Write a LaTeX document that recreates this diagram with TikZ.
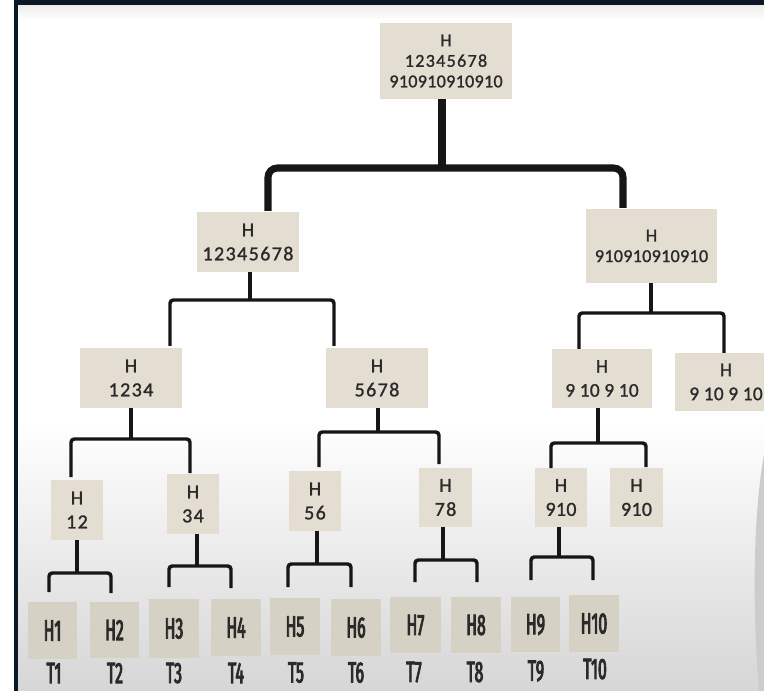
\documentclass[tikz,border=0pt]{standalone}
\usepackage{fontspec}
\setmainfont{Carlito}
\newfontfamily\numf[LetterSpace=7,FakeBold=1.2]{Carlito}
\newfontfamily\numg[LetterSpace=1.5,FakeBold=1.2]{Carlito}
\newfontfamily\leaff[FakeStretch=0.54,FakeBold=3,Numbers=Proportional]{Fira Sans}
\definecolor{boxc}{HTML}{E3DED1}
\definecolor{leafc}{HTML}{D6D1C5}
\definecolor{txtc}{HTML}{2A2A2A}
\definecolor{lnc}{HTML}{161616}
\definecolor{framec}{HTML}{0C1826}
\definecolor{bgbot}{HTML}{D6D6D6}
\tikzset{
  wh/.style 2 args={minimum width=#1*0.75pt, minimum height=#2*0.75pt},
  hb/.style={fill=boxc, inner sep=0pt, text=txtc, align=center,
             font={\numf\fontsize{15pt}{18pt}\selectfont}},
  hbs/.style={hb, font={\numf\fontsize{13.6pt}{15.4pt}\selectfont}},
  lf/.style={fill=leafc, inner sep=0pt, text=txtc,
             font={\leaff\fontsize{22pt}{24pt}\selectfont}},
  tl/.style={inner sep=0pt, text=txtc, font={\leaff\fontsize{22pt}{24pt}\selectfont}},
  conn/.style={draw=lnc, line width=2.6pt, rounded corners=2.5pt},
  bigconn/.style={draw=lnc, line width=5.3pt, rounded corners=7pt},
}
\begin{document}
\begin{tikzpicture}[x=0.75pt, y=-0.75pt]
\useasboundingbox (0,0) rectangle (764,691);
\clip (0,0) rectangle (764,691);
% background
\fill[white] (0,0) rectangle (764,691);
\shade[top color=white, bottom color=bgbot] (18,420) rectangle (764,691);
\shade[top color=black!7, bottom color=white] (18,5) rectangle (764,20);
\fill[gray!40] (764,455) .. controls (752,520) and (753,620) .. (759,691) -- (764,691) -- cycle;
\fill[framec] (14,0) rectangle (764,5);
\fill[framec] (14,0) rectangle (18,691);

% level 0
\node[hbs, wh={132}{76}] (root) at (446,61) {H\\12345678\\{\numg 910910910910}};
% level 1
\node[hb, wh={102}{60}] (L) at (248,242) {H\\12345678};
\node[hbs, wh={131}{74}] (R) at (651.5,246) {H\\{\numg 910910910910}};
% level 2
\node[hb, wh={102}{60}] (A) at (131,378) {H\\1234};
\node[hb, wh={102}{60}] (B) at (377,378) {H\\5678};
\node[hb, wh={100}{59}, font={\numg\fontsize{14.5pt}{18pt}\selectfont}] (C) at (602,378.5) {H\\9 10 9 10};
\node[hb, wh={102}{58}, font={\numg\fontsize{14.5pt}{18pt}\selectfont}] (D) at (726,382) {H\\9 10 9 10};
% level 3
\node[hb, wh={52}{60}] (E) at (77,510) {H\\12};
\node[hb, wh={52}{60}] (F) at (193,504) {H\\34};
\node[hb, wh={52}{60}] (G) at (315,501) {H\\56};
\node[hb, wh={53}{59}] (I) at (445.5,497.5) {H\\78};
\node[hb, wh={52}{59}, font={\numg\fontsize{15pt}{18pt}\selectfont}] (J) at (561,497.5) {H\\910};
\node[hb, wh={53}{59}, font={\numg\fontsize{15pt}{18pt}\selectfont}] (K) at (636.5,497.5) {H\\910};
% leaves
\node[lf, wh={49}{57}] (h1) at (52.5,630.5) {H1};
\node[lf, wh={49}{56}] (h2) at (114.5,630) {H2};
\node[lf, wh={50}{59}] (h3) at (174,628.5) {H3};
\node[lf, wh={50}{57}] (h4) at (236,627.5) {H4};
\node[lf, wh={50}{57}] (h5) at (295,626.5) {H5};
\node[lf, wh={50}{57}] (h6) at (356,627.5) {H6};
\node[lf, wh={51}{56}] (h7) at (415.5,625) {H7};
\node[lf, wh={50}{56}] (h8) at (476,625) {H8};
\node[lf, wh={49}{55}] (h9) at (535.5,624.5) {H9};
\node[lf, wh={50}{57}] (h10) at (594,623.5) {H10};
% T labels
\node[tl] (t1) at (54,673) {T1};
\node[tl] (t2) at (115,673) {T2};
\node[tl] (t3) at (174,673) {T3};
\node[tl] (t4) at (236,673) {T4};
\node[tl] (t5) at (296,672.5) {T5};
\node[tl] (t6) at (356,672.5) {T6};
\node[tl] (t7) at (414,672) {T7};
\node[tl] (t8) at (475,672) {T8};
\node[tl] (t9) at (536,671) {T9};
\node[tl] (t10) at (595,669) {T10};

% junctions and leg ends
\coordinate (j0) at (442,168);
\coordinate (j0a) at (268,211); \coordinate (j0b) at (623,208);
\coordinate (j1) at (250,300);
\coordinate (j1a) at (170,346); \coordinate (j1b) at (334,346);
\coordinate (j2) at (651,313);
\coordinate (j2a) at (579,349); \coordinate (j2b) at (724,353);
\coordinate (j3) at (131,439);
\coordinate (j3a) at (71,477); \coordinate (j3b) at (190,473);
\coordinate (j4) at (378,432);
\coordinate (j4a) at (319,467); \coordinate (j4b) at (439,464);
\coordinate (j5) at (598,443);
\coordinate (j5a) at (551,468); \coordinate (j5b) at (646,467);
\coordinate (j6) at (77,573);
\coordinate (j6a) at (49,592); \coordinate (j6b) at (111,593);
\coordinate (j7) at (197,566);
\coordinate (j7a) at (169,587); \coordinate (j7b) at (231,588);
\coordinate (j8) at (317,564);
\coordinate (j8a) at (288,587); \coordinate (j8b) at (351,587);
\coordinate (j9) at (443,560);
\coordinate (j9a) at (415,582); \coordinate (j9b) at (477,582);
\coordinate (j10) at (559,557);
\coordinate (j10a) at (531,580); \coordinate (j10b) at (593,580);

% connectors
\draw[bigconn] (j0 |- root.south) -- ([yshift=-2.6pt]j0);
\draw[bigconn] (j0a) |- (j0) -| (j0b);
\draw[conn] (j1 |- L.south) -- (j1);
\draw[conn] (j1a) |- (j1) -| (j1b);
\draw[conn] (j2 |- R.south) -- (j2);
\draw[conn] (j2a) |- (j2) -| (j2b);
\draw[conn] (j3 |- A.south) -- (j3);
\draw[conn] (j3a) |- (j3) -| (j3b);
\draw[conn] (j4 |- B.south) -- (j4);
\draw[conn] (j4a) |- (j4) -| (j4b);
\draw[conn] (j5 |- C.south) -- (j5);
\draw[conn] (j5a) |- (j5) -| (j5b);
\draw[conn] (j6 |- E.south) -- (j6);
\draw[conn] (j6a) |- (j6) -| (j6b);
\draw[conn] (j7 |- F.south) -- (j7);
\draw[conn] (j7a) |- (j7) -| (j7b);
\draw[conn] (j8 |- G.south) -- (j8);
\draw[conn] (j8a) |- (j8) -| (j8b);
\draw[conn] (j9 |- I.south) -- (j9);
\draw[conn] (j9a) |- (j9) -| (j9b);
\draw[conn] (j10 |- J.south) -- (j10);
\draw[conn] (j10a) |- (j10) -| (j10b);
\end{tikzpicture}
\end{document}
